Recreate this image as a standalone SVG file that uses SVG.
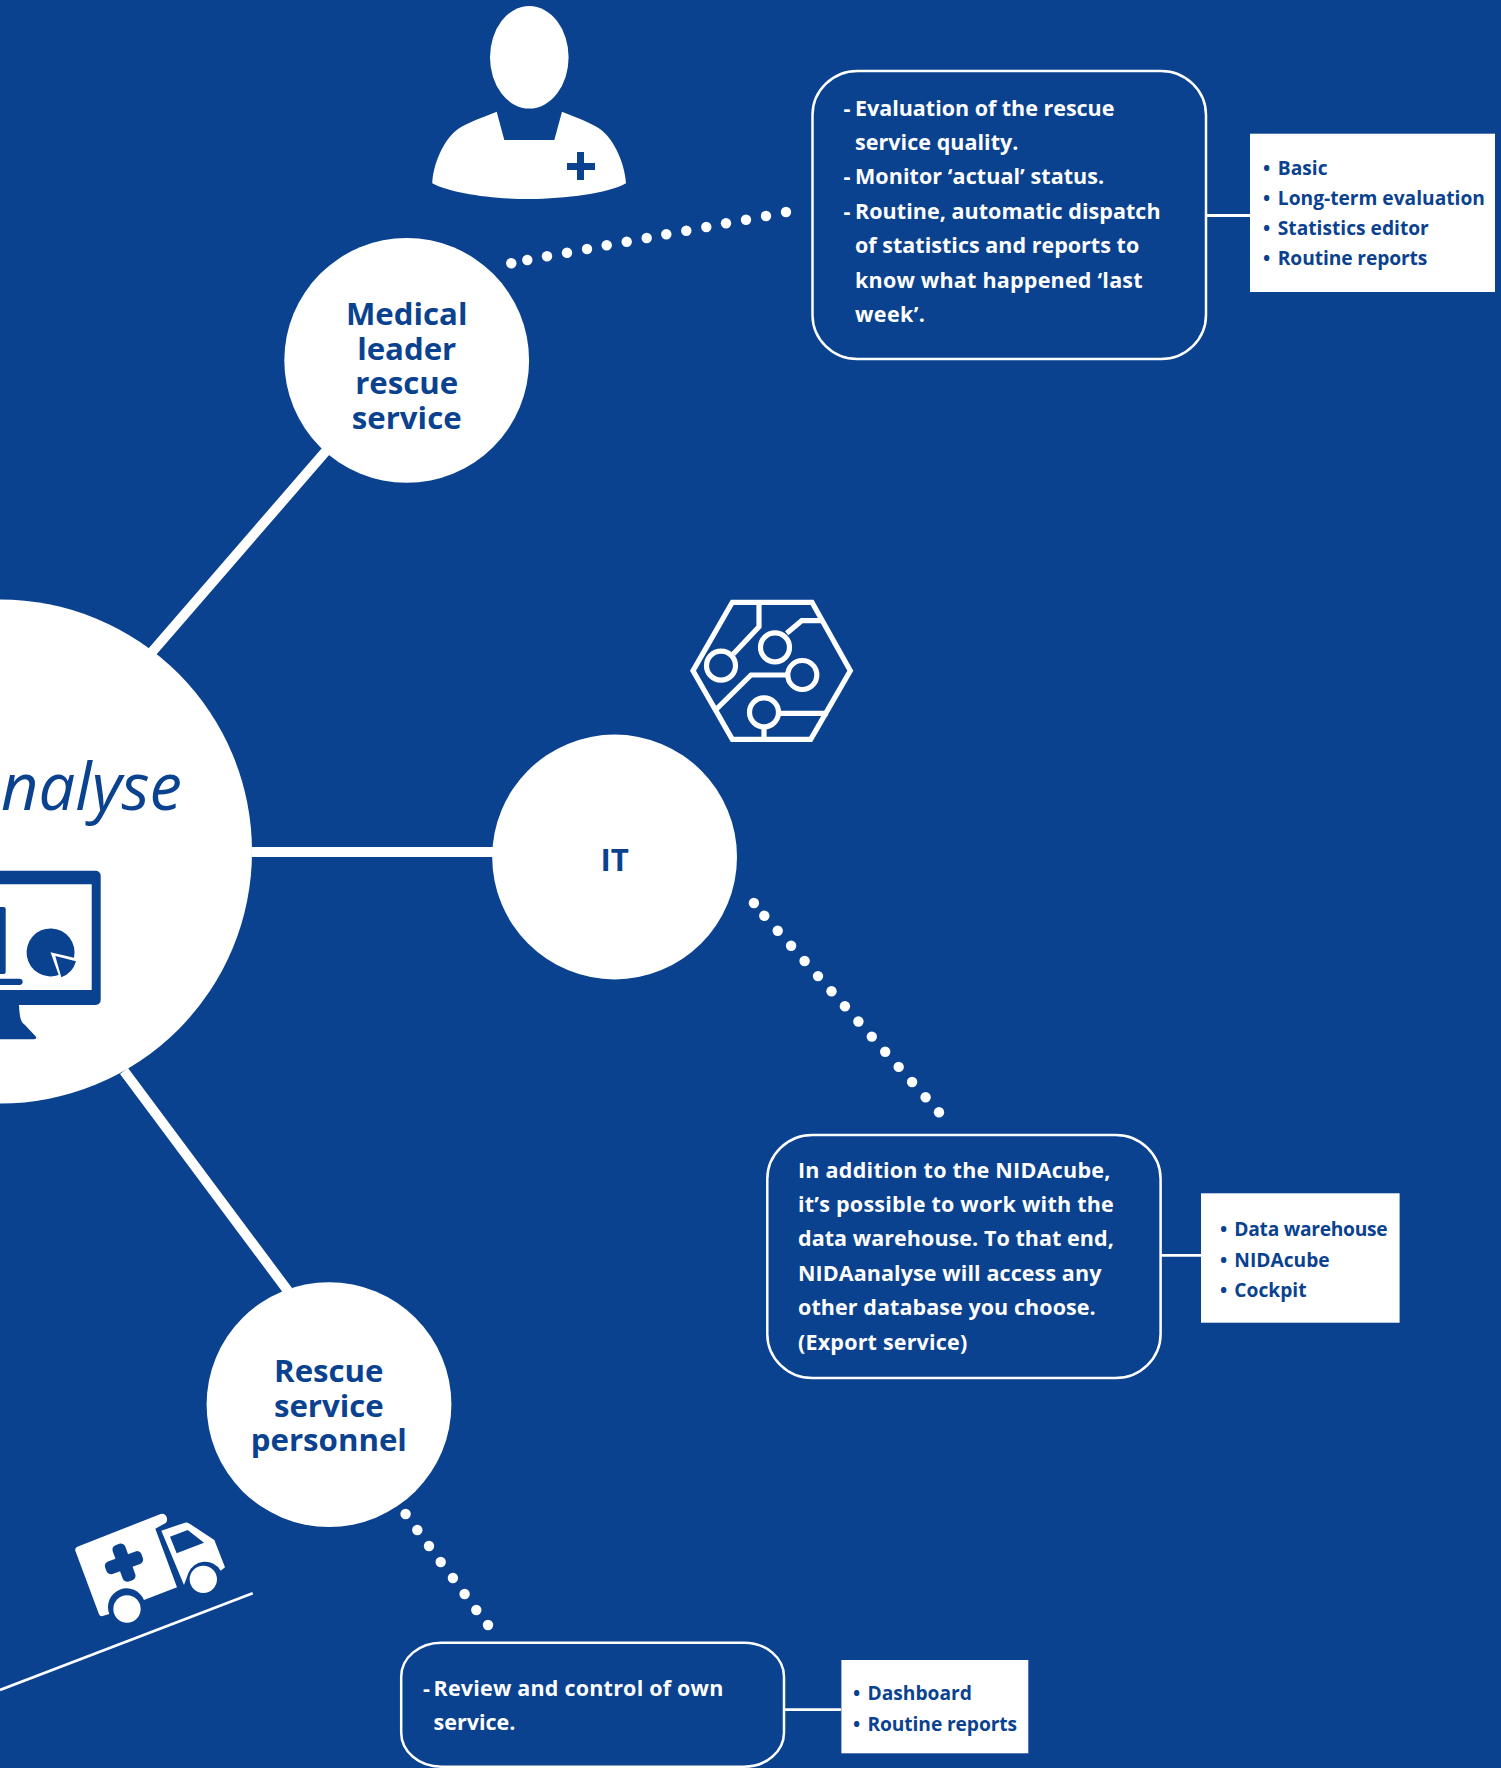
<svg xmlns="http://www.w3.org/2000/svg" width="1501" height="1768" viewBox="0 0 1501 1768">
<style>
text{font-family:"Open Sans","Noto Sans","Liberation Sans",sans-serif}
.w{fill:#fff}.b{fill:#0a4290}
.box{fill:#0a4290;stroke:#fff;stroke-width:2.5}
.t{fill:#fff;font-size:21.5px;font-weight:700}
.l{fill:#0a4290;font-size:19.2px;font-weight:700}
.n{fill:#0a4290;font-size:31.2px;font-weight:700;text-anchor:middle}
.wire{stroke:#fff;fill:none}
</style>
<rect width="1501" height="1768" fill="#0a4290"/>
<g id="connectors">
<path class="wire" stroke-width="10" d="M152,652L326,451M252,852H493M124,1071L288,1291"/>
<path class="wire" stroke-width="2.8" d="M1206,215.500H1250M1161,1255.300H1201M784,1709.700H841"/>
<g fill="#fff" id="dots-medical">
<circle cx="511.300" cy="263.300" r="5.200"/><circle cx="527.300" cy="260" r="5.200"/><circle cx="547" cy="256.300" r="5.200"/><circle cx="567" cy="252.700" r="5.200"/><circle cx="587" cy="249" r="5.200"/><circle cx="606.700" cy="245.300" r="5.200"/><circle cx="626.700" cy="241.700" r="5.200"/><circle cx="646.700" cy="238" r="5.200"/><circle cx="666.300" cy="234.300" r="5.200"/><circle cx="686.300" cy="230.700" r="5.200"/><circle cx="706.300" cy="227" r="5.200"/><circle cx="726" cy="223.300" r="5.200"/><circle cx="746" cy="219.700" r="5.200"/><circle cx="766" cy="216" r="5.200"/><circle cx="786" cy="212" r="5.200"/>
</g>
<g fill="#fff" id="dots-it">
<circle cx="753.900" cy="903" r="5.200"/><circle cx="764.300" cy="915.700" r="5.200"/><circle cx="777.700" cy="930.700" r="5.200"/><circle cx="791.100" cy="945.800" r="5.200"/><circle cx="804.600" cy="961" r="5.200"/><circle cx="818" cy="976.100" r="5.200"/><circle cx="831.500" cy="991.200" r="5.200"/><circle cx="844.900" cy="1006.300" r="5.200"/><circle cx="858.400" cy="1021.500" r="5.200"/><circle cx="871.800" cy="1036.600" r="5.200"/><circle cx="885.200" cy="1051.800" r="5.200"/><circle cx="898.700" cy="1066.900" r="5.200"/><circle cx="912.100" cy="1082" r="5.200"/><circle cx="925.600" cy="1097.200" r="5.200"/><circle cx="939" cy="1112.300" r="5.200"/>
</g>
<g fill="#fff" id="dots-rescue">
<circle cx="405.600" cy="1514" r="5.200"/><circle cx="417.300" cy="1530" r="5.200"/><circle cx="429" cy="1546" r="5.200"/><circle cx="440.700" cy="1562" r="5.200"/><circle cx="452.900" cy="1578" r="5.200"/><circle cx="464.600" cy="1594" r="5.200"/><circle cx="476.300" cy="1610" r="5.200"/><circle cx="488" cy="1625" r="5.200"/>
</g>
<path class="wire" stroke-width="2.600" d="M0,1690L252.700,1593.300"/>
</g>
<g id="node-nidaanalyse">
<circle class="w" cx="0" cy="851.500" r="252"/>
<text x="182" y="810" text-anchor="end" fill="#0a4290" font-size="65" font-style="italic" font-weight="400">nalyse</text>
<path class="b" fill-rule="evenodd" d="M0,870.700H95.700a5,5 0 0 1 5,5V1000a5,5 0 0 1-5,5H19q.5,11 2,15q1,3 4,5l11,11.700q1,2.600-2,2.600H0ZM0,884.300V990H91.700V884.300Z"/>
<path class="b" d="M0,907H3.700a2,2 0 0 1 2,2V972a2,2 0 0 1-2,2H0ZM0,978.700H19.500a3.150,3.150 0 0 1 0,6.300H0Z"/>
<path class="b" d="M50.500,952.300L74,957.700A24,24 0 1 0 58.700,975Z"/>
<path class="b" d="M55.300,956L76,961.300A24,24 0 0 1 61.300,977.300Z"/>
</g>
<g id="node-medical">
<circle class="w" cx="406.700" cy="360.400" r="122.400"/>
<text class="n" x="406.700" y="325">Medical</text>
<text class="n" x="406.700" y="360">leader</text>
<text class="n" x="406.700" y="394">rescue</text>
<text class="n" x="406.700" y="429">service</text>
</g>
<g id="icon-doctor">
<ellipse class="w" cx="529.300" cy="57.300" rx="39.300" ry="51.300"/>
<path class="w" d="M496.700,111.700L504.300,140H554.300L562,111.700C575,117 590,122 600,129C615,140 625,165 626,183.300C610,193 565,199 529,199C490,199 450,193 432.300,183.300C433,165 443,140 458,129C468,122 484,117 496.700,111.700Z"/>
<path class="b" d="M577,152H584V163H595V170H584V180H577V170H567V163H577Z"/>
</g>
<g id="box-medical">
<rect class="box" x="812.500" y="71" width="393.500" height="288" rx="45" ry="44"/>
<text class="t" x="843.500" y="115.500">-</text><text class="t" x="855" y="115.500" textLength="259.400">Evaluation of the rescue</text>
<text class="t" x="855" y="149.900" textLength="163.500">service quality.</text>
<text class="t" x="843.500" y="184.300">-</text><text class="t" x="855" y="184.300" textLength="249.200">Monitor ‘actual’ status.</text>
<text class="t" x="843.500" y="218.700">-</text><text class="t" x="855" y="218.700" textLength="305.600">Routine, automatic dispatch</text>
<text class="t" x="855" y="253.100" textLength="284.200">of statistics and reports to</text>
<text class="t" x="855" y="287.500" textLength="287.600">know what happened ‘last</text>
<text class="t" x="855" y="321.900" textLength="70">week’.</text>
</g>
<g id="list-medical">
<rect class="w" x="1250" y="133.700" width="245" height="158.300"/>
<text class="l" x="1263" y="175">•</text><text class="l" x="1277.800" y="175">Basic</text>
<text class="l" x="1263" y="205">•</text><text class="l" x="1277.800" y="205">Long-term evaluation</text>
<text class="l" x="1263" y="235">•</text><text class="l" x="1277.800" y="235">Statistics editor</text>
<text class="l" x="1263" y="265">•</text><text class="l" x="1277.800" y="265" textLength="149.600">Routine reports</text>
</g>
<g id="icon-circuit" fill="none" stroke="#fff" stroke-width="5.200">
<path d="M732.300,602.300H812L850.300,670.700L810.700,739.300H732.300L693,670.700Z"/>
<path d="M759,602.300V626.700L733.300,654M786.700,633.300L801.700,620.700H822M788.300,675H751L714.500,711M779.300,713.300H828M764,727V739"/>
<circle cx="721" cy="665.700" r="14.500"/><circle cx="775" cy="647.300" r="14.500"/><circle cx="802.300" cy="675" r="14.500"/><circle cx="764" cy="712.300" r="14.500"/>
</g>
<g id="node-it">
<circle class="w" cx="614.600" cy="857" r="122.400"/>
<text class="n" x="614.600" y="870.500">IT</text>
</g>
<g id="box-it">
<rect class="box" x="767.300" y="1135" width="393.300" height="243" rx="45" ry="44"/>
<text class="t" x="798" y="1177.500" textLength="312.400">In addition to the NIDAcube,</text>
<text class="t" x="798" y="1211.900" textLength="315.800">it’s possible to work with the</text>
<text class="t" x="798" y="1246.300" textLength="315.800">data warehouse. To that end,</text>
<text class="t" x="798" y="1280.700" textLength="303.400">NIDAanalyse will access any</text>
<text class="t" x="798" y="1315.100" textLength="297.700">other database you choose.</text>
<text class="t" x="798" y="1349.500" textLength="169.200">(Export service)</text>
</g>
<g id="list-it">
<rect class="w" x="1201" y="1193.300" width="198.600" height="129.400"/>
<text class="l" x="1220" y="1236">•</text><text class="l" x="1234.300" y="1236" textLength="153.400">Data warehouse</text>
<text class="l" x="1220" y="1266.700">•</text><text class="l" x="1234.300" y="1266.700">NIDAcube</text>
<text class="l" x="1220" y="1296.700">•</text><text class="l" x="1234.300" y="1296.700">Cockpit</text>
</g>
<g id="node-rescue">
<circle class="w" cx="329" cy="1404.600" r="122.400"/>
<text class="n" x="328.800" y="1382">Rescue</text>
<text class="n" x="328.800" y="1417">service</text>
<text class="n" x="328.800" y="1451.300">personnel</text>
</g>
<g id="icon-ambulance" transform="translate(0,1490) scale(.33333)">
<path class="w" d="M232,170L482,72Q495,68 500,82Q505,98 490,103L466,116L531,292L432,330A54,54 0 0 0 328,372L305,379Q300,379 297,373L226,182Q224,174 232,170Z"/>
<path class="w" fill-rule="evenodd" d="M484,122L555,98Q562,97 570,102L643,150L675,232L662,242A54,54 0 0 0 565,250L552,285Z M510,140L530,190L612,158L563,120Z"/>
<circle class="w" cx="381" cy="357" r="41"/><circle class="w" cx="610" cy="268" r="41"/>
<g transform="rotate(-20 372 218)"><rect class="b" x="314" y="198" width="116" height="40" rx="14"/><rect class="b" x="352" y="160" width="40" height="116" rx="14"/></g>
</g>
<g id="box-rescue">
<rect class="box" x="401.200" y="1642.700" width="382.800" height="124" rx="40" ry="34"/>
<text class="t" x="423" y="1695.700">-</text><text class="t" x="433.500" y="1695.700" textLength="289.800">Review and control of own</text>
<text class="t" x="433.500" y="1730.300">service.</text>
</g>
<g id="list-rescue">
<rect class="w" x="841.400" y="1660" width="186.900" height="93.300"/>
<text class="l" x="853" y="1700">•</text><text class="l" x="867.500" y="1700">Dashboard</text>
<text class="l" x="853" y="1730.700">•</text><text class="l" x="867.500" y="1730.700" textLength="149.600">Routine reports</text>
</g>
</svg>
